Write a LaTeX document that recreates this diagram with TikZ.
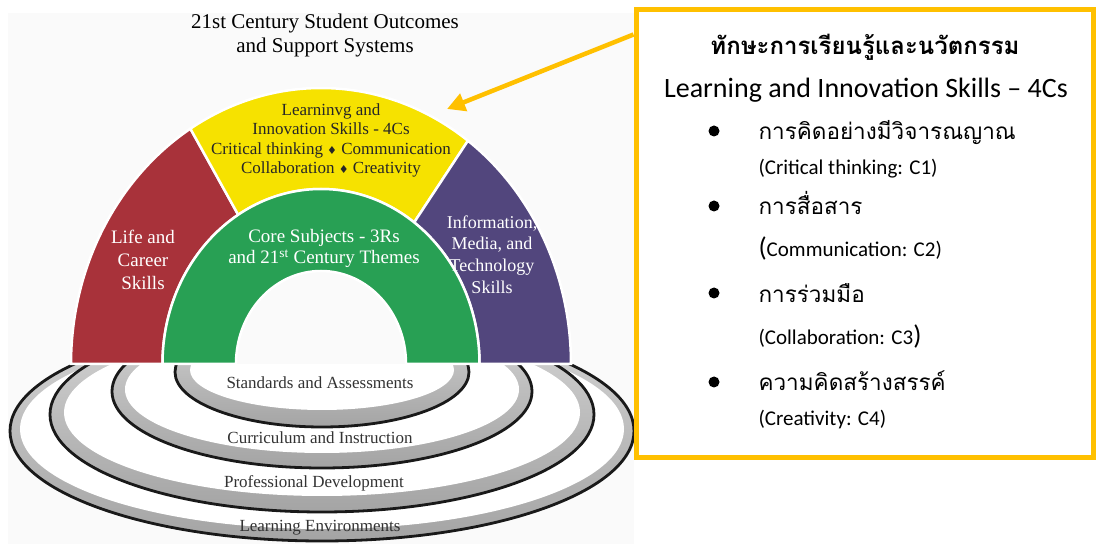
\documentclass[tikz,border=0pt]{standalone}
\usepackage{fontspec}
\setmainfont{Liberation Serif}
\newfontfamily\thaifont[Script=Thai]{Loma}
\newfontfamily\uifont{Carlito}
\newfontfamily\symfont{DejaVu Sans}
\usetikzlibrary{arrows.meta}
\definecolor{archred}{RGB}{168,50,58}
\definecolor{archyellow}{RGB}{246,226,0}
\definecolor{archgreen}{RGB}{40,160,84}
\definecolor{archpurple}{RGB}{82,70,125}
\definecolor{bandlight}{RGB}{214,214,214}
\definecolor{banddark}{RGB}{164,164,164}
\definecolor{panelgray}{RGB}{250,250,250}
\definecolor{boxgold}{RGB}{255,192,0}

\begin{document}
\begin{tikzpicture}[x=1pt,y=1pt,
  seg/.style={draw=white,line width=2.5pt},
  ring/.style={draw=black!90,line width=2.8pt,top color=bandlight,bottom color=banddark},
  segtext/.style={align=center,text=white},
  ringtext/.style={text=black!80,font=\fontsize{17}{20}\selectfont},
  thaiitem/.style={anchor=base west,font=\thaifont\fontsize{22.5}{27}\selectfont},
  enitem/.style={anchor=base west,font=\uifont\fontsize{21}{24}\selectfont}]
\useasboundingbox (0,0) rectangle (1096,544);
\fill[panelgray] (8,0) rectangle (634,531);
% title
\node[align=center,font=\fontsize{21}{24}\selectfont] (title) at (325,509) {21st Century Student Outcomes\\and Support Systems};
% support systems: rings below the arch
\begin{scope}
\clip (0,0) rectangle (640,179);
\foreach \ry/\rx/\rr/\bw in {113/312/110/10,129.5/272/97.5/14,152.6/210/76.6/13,172/147/55/15}{
  \filldraw[ring] (322,\ry) ellipse [x radius=\rx,y radius=\rr];
  \fill[white] (322,{\ry+2}) ellipse [x radius=\rx-\bw,y radius=\rr-\bw];}
\end{scope}
\node[ringtext] (stds) at (320,161) {Standards and Assessments};
\node[ringtext] (curr) at (320,106) {Curriculum and Instruction};
\node[ringtext] (prof) at (314,61) {Professional Development};
\node[ringtext] (envs) at (320,16) {Learning Environments};
% outcomes: the arch
\foreach \col/\a/\b in {archred/180/121.5,archyellow/121.5/54,archpurple/54/0}{
  \filldraw[seg,fill=\col] ([shift={(321,180)}]\a:250 and 276) arc[start angle=\a,end angle=\b,x radius=250,y radius=276]
    -- ([shift={(321,180)}]\b:158.5 and 175) arc[start angle=\b,end angle=\a,x radius=158.5,y radius=175] -- cycle;}
\filldraw[seg,fill=archgreen] (162.5,180) arc[start angle=180,end angle=0,x radius=158.5,y radius=175]
  -- (406,180) arc[start angle=0,end angle=180,x radius=85,y radius=93] -- cycle;
\node[align=center,text=black!85,font=\fontsize{17}{19.5}\selectfont] (learn) at (331,403.5)
  {Learninvg and\\Innovation Skills - 4Cs\\Critical thinking {\symfont\fontsize{11}{11}\selectfont♦} Communication\\Collaboration {\symfont\fontsize{11}{11}\selectfont♦} Creativity};
\node[segtext,font=\fontsize{19}{23}\selectfont] (life) at (143,284) {Life and\\Career\\Skills};
\node[segtext,font=\fontsize{19}{21}\selectfont] (core) at (324,295.5) {Core Subjects - 3Rs\\and 21\textsuperscript{st} Century Themes};
\node[segtext,font=\fontsize{18}{21.7}\selectfont] (info) at (492,289.5) {Information,\\Media, and\\Technology\\Skills};
% 4Cs box
\node[draw=boxgold,line width=5pt,minimum width=457,minimum height=448] (box) at (864.5,310) {};
\coordinate (from) at ([yshift=-27pt]box.north west);
\coordinate (tip) at (447,435);
\draw[boxgold,line width=4.5pt,-{Triangle[length=18pt,width=18pt]}] (from) -- (tip);
\node[font=\thaifont\bfseries\fontsize{24}{28}\selectfont] (head) at (865,497) {ทักษะการเรียนรู้และนวัตกรรม};
\node[font=\uifont\fontsize{28}{30}\selectfont] (sub) at (866,454) {Learning and Innovation Skills – 4Cs};
\foreach \y in {413,338,251,162}{\fill (714,\y) circle (5.5);}
\node[thaiitem] (c1) at (755,404) {การคิดอย่างมีวิจารณญาณ};
\node[enitem] (c1en) at (755,369) {(Critical thinking: C1)};
\node[thaiitem] (c2) at (755,329) {การสื่อสาร};
\node[enitem] (c2en) at (755,287) {{\fontsize{27}{27}\selectfont(}Communication: C2)};
\node[thaiitem] (c3) at (755,241) {การร่วมมือ};
\node[enitem] (c3en) at (755,199) {(Collaboration: C3{\fontsize{27}{27}\selectfont)}};
\node[thaiitem] (c4) at (755,153) {ความคิดสร้างสรรค์};
\node[enitem] (c4en) at (755,118) {(Creativity: C4)};
\end{tikzpicture}
\end{document}
